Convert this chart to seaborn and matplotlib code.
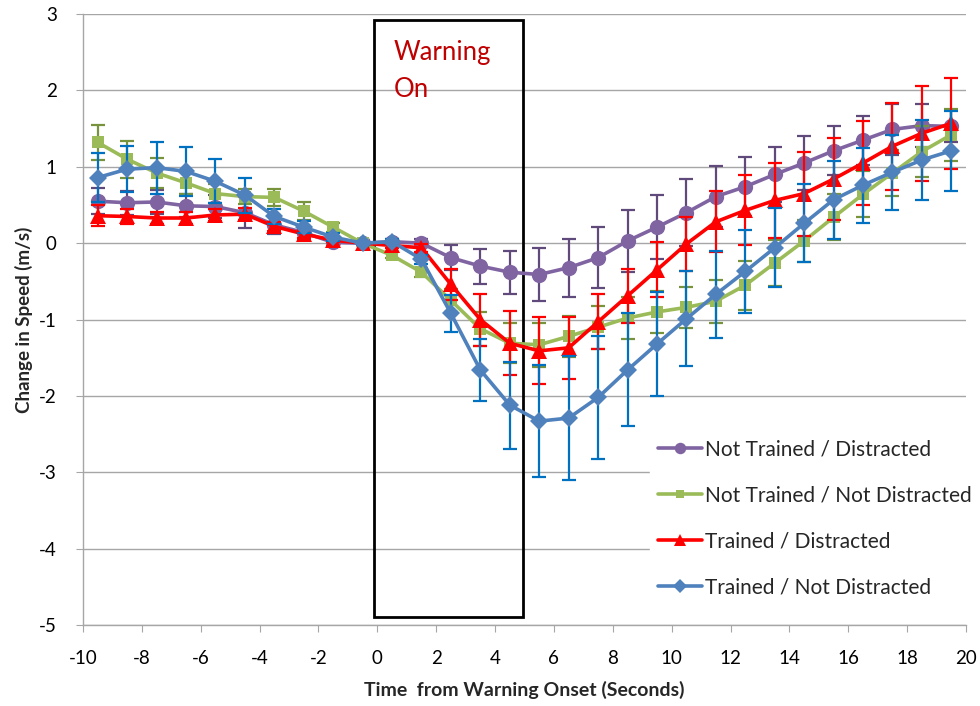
import numpy as np
import pandas as pd
import matplotlib
matplotlib.use('Agg')
import matplotlib.pyplot as plt
from matplotlib.patches import Rectangle
from matplotlib.lines import Line2D
import seaborn as sns

times = [-9.5, -8.5, -7.5, -6.5, -5.5, -4.5, -3.5, -2.5, -1.5, -0.5,
         0.5, 1.5, 2.5, 3.5, 4.5, 5.5, 6.5, 7.5, 8.5, 9.5,
         10.5, 11.5, 12.5, 13.5, 14.5, 15.5, 16.5, 17.5, 18.5, 19.5]

nt_dist = [0.55, 0.53, 0.54, 0.49, 0.48, 0.40, 0.24, 0.14, 0.01, 0.0,
           0.02, 0.0, -0.19, -0.30, -0.38, -0.41, -0.32, -0.19, 0.03, 0.21,
           0.40, 0.61, 0.74, 0.90, 1.05, 1.21, 1.35, 1.49, 1.54, 1.53]
nt_dist_err = [0.17, 0.16, 0.16, 0.15, 0.15, 0.20, 0.12, 0.08, 0.05, 0.02,
               0.03, 0.05, 0.16, 0.23, 0.28, 0.35, 0.38, 0.40, 0.41, 0.42,
               0.44, 0.40, 0.39, 0.36, 0.35, 0.32, 0.32, 0.33, 0.28, 0.21]

nt_nodist = [1.32, 1.10, 0.92, 0.79, 0.65, 0.61, 0.60, 0.42, 0.21, 0.0,
             -0.16, -0.38, -0.75, -1.12, -1.31, -1.33, -1.22, -1.10, -0.98, -0.90,
             -0.84, -0.76, -0.55, -0.26, 0.03, 0.34, 0.64, 0.92, 1.20, 1.42]
nt_nodist_err = [0.23, 0.24, 0.20, 0.15, 0.12, 0.10, 0.11, 0.12, 0.06, 0.02,
                 0.04, 0.06, 0.15, 0.22, 0.26, 0.29, 0.27, 0.28, 0.28, 0.27,
                 0.27, 0.28, 0.32, 0.30, 0.28, 0.30, 0.30, 0.30, 0.33, 0.34]

tr_dist = [0.36, 0.35, 0.33, 0.33, 0.37, 0.38, 0.22, 0.12, 0.04, 0.0,
           -0.03, -0.06, -0.54, -1.00, -1.31, -1.41, -1.37, -1.03, -0.69, -0.35,
           -0.01, 0.28, 0.43, 0.56, 0.65, 0.84, 1.05, 1.27, 1.44, 1.57]
tr_dist_err = [0.14, 0.10, 0.08, 0.08, 0.08, 0.08, 0.06, 0.05, 0.03, 0.02,
               0.03, 0.05, 0.20, 0.34, 0.42, 0.44, 0.41, 0.36, 0.35, 0.36,
               0.35, 0.40, 0.46, 0.49, 0.55, 0.54, 0.55, 0.57, 0.62, 0.60]

tr_nodist = [0.86, 0.97, 0.99, 0.94, 0.81, 0.63, 0.35, 0.21, 0.08, 0.0,
             0.02, -0.21, -0.92, -1.66, -2.12, -2.33, -2.29, -2.02, -1.66, -1.32,
             -0.99, -0.67, -0.37, -0.06, 0.26, 0.57, 0.76, 0.93, 1.09, 1.21]
tr_nodist_err = [0.32, 0.30, 0.34, 0.32, 0.29, 0.23, 0.10, 0.08, 0.05, 0.02,
                 0.03, 0.06, 0.24, 0.40, 0.57, 0.73, 0.81, 0.80, 0.74, 0.68,
                 0.62, 0.57, 0.54, 0.52, 0.51, 0.51, 0.49, 0.49, 0.52, 0.52]

labels = ['Not Trained / Distracted', 'Not Trained / Not Distracted',
          'Trained / Distracted', 'Trained / Not Distracted']
x_ticks = list(range(-10, 21, 2))
y_ticks = list(range(-5, 4))

sns.set_style('white')
plt.rcParams['font.family'] = ['Lato', 'DejaVu Sans']
plt.rcParams['axes.unicode_minus'] = False

series = [
    (labels[0], nt_dist, nt_dist_err, '#8064A2', '#604A7B', 'o', 11),
    (labels[1], nt_nodist, nt_nodist_err, '#9BBB59', '#77933C', 's', 8),
    (labels[2], tr_dist, tr_dist_err, '#FF0000', '#FF0000', '^', 11),
    (labels[3], tr_nodist, tr_nodist_err, '#4F81BD', '#0070C0', 'D', 9),
]

fig = plt.figure(figsize=(9.8, 7.06), dpi=100)
ax = fig.add_axes([0.0847, 0.1147, 0.9010, 0.8653])

handles = []
for i, (name, vals, errs, col, ecol, mk, ms) in enumerate(series):
    df = pd.DataFrame({'t': times, 'v': vals})
    ax.errorbar(times, vals, yerr=errs, fmt='none', ecolor=ecol,
                elinewidth=1.6, capsize=5, capthick=1.6, zorder=3 + i * 2)
    sns.lineplot(data=df, x='t', y='v', ax=ax, color=col, linewidth=2.6,
                 marker=mk, markersize=ms, markeredgewidth=0,
                 zorder=4 + i * 2, legend=False)
    handles.append(Line2D([0], [0], color=col, linewidth=2.6, marker=mk,
                          markersize=ms * 0.75, markeredgewidth=0, label=name))

ax.set_xlim(-10, 20)
ax.set_ylim(-5, 3)
ax.set_xticks(x_ticks)
ax.set_yticks(y_ticks)
ax.yaxis.grid(True, color='#A6A6A6', linewidth=1)
ax.xaxis.grid(False)
ax.set_axisbelow(True)
for s in ['top', 'right']:
    ax.spines[s].set_visible(False)
for s in ['left', 'bottom']:
    ax.spines[s].set_color('#A6A6A6')
    ax.spines[s].set_linewidth(1)
ax.tick_params(axis='both', which='both', direction='out', length=5,
               color='#A6A6A6', labelsize=13.5, labelcolor='#000000',
               left=True, bottom=True)
ax.tick_params(axis='y', pad=14)
ax.tick_params(axis='x', pad=13)

ax.set_xlabel('Time  from Warning Onset (Seconds)', fontsize=14,
              fontweight='bold', labelpad=10)
ax.set_ylabel('Change in Speed (m/s)', fontsize=13.5, fontweight='bold',
              labelpad=4)

# warning box
ax.add_patch(Rectangle((-0.12, -4.89), 5.06, 7.81, fill=False,
                       edgecolor='black', linewidth=2, zorder=2))
ax.text(0.55, 2.26, 'Warning\nOn', color='#C00000', fontsize=18.5,
        va='center', ha='left', linespacing=1.6, zorder=2)

leg = ax.legend(handles=handles, loc='upper left',
                bbox_to_anchor=(0.642, 0.318), frameon=True,
                fontsize=15, handlelength=2.1, handletextpad=0.15,
                labelspacing=1.25, borderpad=0.4, borderaxespad=0)
leg.get_frame().set_facecolor('white')
leg.get_frame().set_edgecolor('white')
leg.get_frame().set_alpha(1)
leg.set_zorder(20)

fig.savefig('out.png', dpi=100)
